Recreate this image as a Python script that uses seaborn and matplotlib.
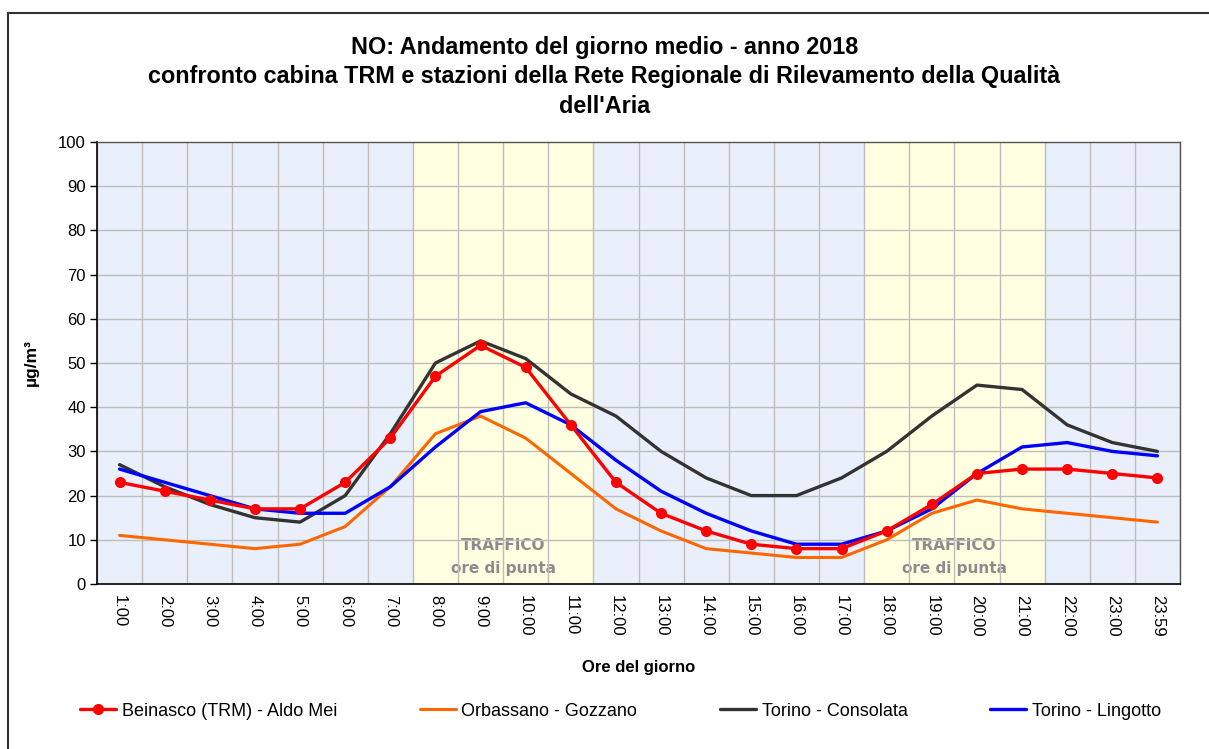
import matplotlib
matplotlib.use("Agg")
import matplotlib.pyplot as plt
import seaborn as sns
import pandas as pd
import numpy as np
from matplotlib.patches import Rectangle

# Hours of the day (categories)
hours = ["1:00", "2:00", "3:00", "4:00", "5:00", "6:00", "7:00", "8:00",
         "9:00", "10:00", "11:00", "12:00", "13:00", "14:00", "15:00", "16:00",
         "17:00", "18:00", "19:00", "20:00", "21:00", "22:00", "23:00", "23:59"]

# NO mean day values (ug/m3)
beinasco = [23, 21, 19, 17, 17, 23, 33, 47, 54, 49, 36, 23,
            16, 12, 9, 8, 8, 12, 18, 25, 26, 26, 25, 24]
orbassano = [11, 10, 9, 8, 9, 13, 22, 34, 38, 33, 25, 17,
             12, 8, 7, 6, 6, 10, 16, 19, 17, 16, 15, 14]
consolata = [27, 22, 18, 15, 14, 20, 34, 50, 55, 51, 43, 38,
             30, 24, 20, 20, 24, 30, 38, 45, 44, 36, 32, 30]
lingotto = [26, 23, 20, 17, 16, 16, 22, 31, 39, 41, 36, 28,
            21, 16, 12, 9, 9, 12, 17, 25, 31, 32, 30, 29]

station_names = ["Beinasco (TRM) - Aldo Mei", "Orbassano - Gozzano",
                 "Torino - Consolata", "Torino - Lingotto"]
station_values = [beinasco, orbassano, consolata, lingotto]
station_colors = ["#FF0000", "#FF6600", "#333333", "#0000FF"]

# rush hour bands (first and last hour inside the band)
peak_bands = [("8:00", "11:00"), ("18:00", "21:00")]
peak_text = ["TRAFFICO", "ore di punta"]

sns.set_style("white")
plt.rcParams["font.family"] = ["Liberation Sans", "DejaVu Sans"]
plt.rcParams.update({"text.color": "black", "axes.labelcolor": "black",
                     "xtick.color": "black", "ytick.color": "black"})

fig = plt.figure(figsize=(12.09, 7.49), dpi=100)
ax = fig.add_axes([97 / 1209, 1 - 584 / 749, (1180 - 97) / 1209, (584 - 142) / 749])

x = np.arange(len(hours))
df = pd.DataFrame({"pos": np.tile(x, len(station_names)),
                   "station": np.repeat(station_names, len(hours)),
                   "value": np.concatenate(station_values)})

# background: blue everywhere, yellow on rush hours
ax.set_facecolor("#E9EFFB")
for start, end in peak_bands:
    i0, i1 = hours.index(start), hours.index(end)
    ax.axvspan(i0 - 0.5, i1 + 0.5, color="#FFFFE1", zorder=0, lw=0)
    xc = (i0 + i1) / 2
    ax.text(xc, 8.8, peak_text[0], ha="center", va="center", fontsize=11,
            color="#8C8C8C", fontweight="bold", family="DejaVu Sans", zorder=1)
    ax.text(xc, 3.4, peak_text[1], ha="center", va="center", fontsize=11,
            color="#8C8C8C", fontweight="bold", family="DejaVu Sans", zorder=1)

# grid
for b in np.arange(-0.5, len(hours), 1.0):
    ax.axvline(b, color="#BDBDBD", lw=1, zorder=1)
for yv in range(10, 100, 10):
    ax.axhline(yv, color="#BDBDBD", lw=1, zorder=1)

zorders = [6, 3, 4, 5]
widths = [2.4, 2.2, 2.4, 2.4]
for name, col, zo, lw in zip(station_names, station_colors, zorders, widths):
    sub = df[df["station"] == name]
    marker = "o" if name.startswith("Beinasco") else None
    sns.lineplot(data=sub, x="pos", y="value", color=col, lw=lw, ax=ax,
                 marker=marker, markersize=8, markeredgewidth=0,
                 label=name, zorder=zo)

ax.set_xlim(-0.5, len(hours) - 0.5)
ax.set_ylim(0, 100)
ax.set_yticks(range(0, 101, 10))
ax.set_xticks(x)
ax.set_xticklabels(hours, rotation=-90, fontsize=12)
ax.set_xticks(np.arange(-0.5, len(hours), 1.0), minor=True)
ax.tick_params(axis="x", which="major", length=0, pad=8)
ax.tick_params(axis="x", which="minor", length=6, width=1, direction="out", color="black")
ax.tick_params(axis="y", length=5, width=1, direction="out", color="black", labelsize=12, pad=3)
ax.tick_params(left=True, bottom=True)

for s in ["left", "bottom"]:
    ax.spines[s].set_color("black")
    ax.spines[s].set_linewidth(1.2)
for s in ["top", "right"]:
    ax.spines[s].set_color("#555555")
    ax.spines[s].set_linewidth(1)

ax.set_xlabel("Ore del giorno", fontsize=12, fontweight="bold", labelpad=17)
ax.set_ylabel("µg/m³", fontsize=12.5, fontweight="bold", labelpad=14)

fig.suptitle("NO: Andamento del giorno medio - anno 2018\n"
             "confronto cabina TRM e stazioni della Rete Regionale di Rilevamento della Qualità\n"
             "dell'Aria", y=1 - 36 / 749, va="top", fontsize=16.8, fontweight="bold",
             linespacing=1.36, color="black")

handles, labels = ax.get_legend_handles_labels()
ax.get_legend().remove()
fig.legend(handles, labels, ncol=4, mode="expand", frameon=False,
           loc="center", bbox_to_anchor=(73 / 1209, 1 - 731 / 749, (1168 - 73) / 1209, 40 / 749),
           fontsize=13, handlelength=2.0, handletextpad=0.3, borderaxespad=0)

# outer chart frame
fig.patches.append(Rectangle((8 / 1209, -0.1), 1.2, 1 - 13 / 749 + 0.1,
                             transform=fig.transFigure, fill=False,
                             edgecolor="#333333", lw=1.5))

fig.savefig("out.png", dpi=100)
